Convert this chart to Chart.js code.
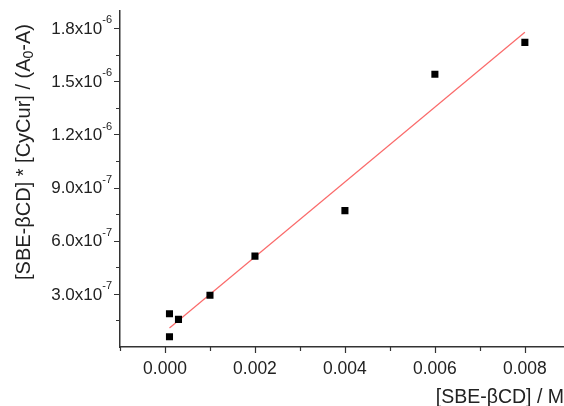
<!DOCTYPE html>
<html>
<head>
<meta charset="utf-8">
<script src="https://cdn.jsdelivr.net/npm/chart.js@4/dist/chart.umd.min.js"></script>
<style>
  html, body { margin: 0; padding: 0; background: #fff; }
  #wrap { width: 564px; height: 406px; }
</style>
</head>
<body>
<div id="wrap"><canvas id="chart" width="564" height="406"></canvas></div>
<script>
// Data
const xVals = [0.0001, 0.0001, 0.0003, 0.001, 0.002, 0.004, 0.006, 0.008];
const yVals = [1.88e-7, 5.8e-8, 1.56e-7, 2.92e-7, 5.13e-7, 7.7e-7, 1.54e-6, 1.72e-6];

// Linear fit (red line) end points
const fitX = [0.0001, 0.008];
const fitY = [1.075e-7, 1.777e-6];

// Axis ticks
const xTickVals = [0, 0.002, 0.004, 0.006, 0.008];
const xTickLabels = ["0.000", "0.002", "0.004", "0.006", "0.008"];
const xMinorVals = [-0.001, 0.001, 0.003, 0.005, 0.007];
const yTickVals = [3e-7, 6e-7, 9e-7, 1.2e-6, 1.5e-6, 1.8e-6];
const yTickLabels = ["3.0x10", "6.0x10", "9.0x10", "1.2x10", "1.5x10", "1.8x10"];
const yTickExps = ["-7", "-7", "-7", "-6", "-6", "-6"];
const yMinorVals = [1.5e-7, 4.5e-7, 7.5e-7, 1.05e-6, 1.35e-6, 1.65e-6];

const FONT = "'Liberation Sans', Arial, sans-serif";
const AXIS = "#333";
const TEXT = "#222";

// ------------------------------
// Custom axis decorations: tick marks, y labels with superscripts, y title
// ------------------------------
const axisDeco = {
  id: "axisDeco",
  afterDraw(chart) {
    const ctx = chart.ctx;
    const xs = chart.scales.x;
    const ys = chart.scales.y;
    const left = chart.chartArea.left;
    const bottom = chart.chartArea.bottom;

    ctx.save();
    ctx.strokeStyle = AXIS;
    ctx.lineWidth = 1.2;
    ctx.beginPath();
    xTickVals.forEach(v => {
      const px = Math.round(xs.getPixelForValue(v)) + 0.5;
      ctx.moveTo(px, bottom); ctx.lineTo(px, bottom + 6);
    });
    xMinorVals.forEach(v => {
      const px = Math.round(xs.getPixelForValue(v)) + 0.5;
      ctx.moveTo(px, bottom); ctx.lineTo(px, bottom + 4);
    });
    yTickVals.forEach(v => {
      const py = Math.round(ys.getPixelForValue(v)) + 0.5;
      ctx.moveTo(left, py); ctx.lineTo(left - 6, py);
    });
    yMinorVals.forEach(v => {
      const py = Math.round(ys.getPixelForValue(v)) + 0.5;
      ctx.moveTo(left, py); ctx.lineTo(left - 4, py);
    });
    ctx.stroke();

    // y tick labels with superscript exponent
    ctx.fillStyle = TEXT;
    ctx.textBaseline = "middle";
    yTickVals.forEach((v, i) => {
      const py = ys.getPixelForValue(v);
      ctx.font = "11px " + FONT;
      ctx.textAlign = "left";
      const ew = ctx.measureText(yTickExps[i]).width;
      const ex = left - 8 - ew;
      ctx.fillText(yTickExps[i], ex, py - 8);
      ctx.font = "17px " + FONT;
      ctx.textAlign = "right";
      ctx.fillText(yTickLabels[i], ex, py + 1);
    });

    // y axis title with subscript 0
    ctx.translate(24, 152);
    ctx.rotate(-Math.PI / 2);
    const partA = "[SBE-\u03B2CD] * [CyCur] / (A";
    const sub = "0";
    const partB = "-A)";
    ctx.font = "20px " + FONT;
    const wa = ctx.measureText(partA).width;
    const wb = ctx.measureText(partB).width;
    ctx.font = "14px " + FONT;
    const ws = ctx.measureText(sub).width;
    let x0 = -(wa + ws + wb) / 2;
    ctx.textAlign = "left";
    ctx.font = "20px " + FONT;
    ctx.fillText(partA, x0, 0);
    ctx.font = "14px " + FONT;
    ctx.fillText(sub, x0 + wa, 5);
    ctx.font = "20px " + FONT;
    ctx.fillText(partB, x0 + wa + ws, 0);
    ctx.restore();
  }
};

// ------------------------------
// Chart
// ------------------------------
function renderChart() {
  const ctx = document.getElementById("chart").getContext("2d");
  new Chart(ctx, {
    type: "scatter",
    data: {
      datasets: [
        {
          label: "Data",
          data: xVals.map((x, i) => ({ x, y: yVals[i] })),
          pointStyle: "rect",
          pointRadius: 5,
          pointBorderWidth: 0,
          backgroundColor: "#000",
          borderColor: "#000"
        },
        {
          label: "Fit",
          type: "line",
          data: fitX.map((x, i) => ({ x, y: fitY[i] })),
          borderColor: "rgba(250,90,90,0.9)",
          borderWidth: 1.2,
          pointRadius: 0,
          fill: false
        }
      ]
    },
    options: {
      responsive: false,
      animation: false,
      layout: { autoPadding: false, padding: { top: 10.5, right: 0, left: 0, bottom: 0 } },
      plugins: {
        legend: { display: false },
        tooltip: { enabled: false }
      },
      scales: {
        x: {
          type: "linear",
          min: -0.001,
          max: 0.00887,
          grid: { display: false, drawTicks: false },
          border: { display: true, color: AXIS, width: 1.5 },
          afterBuildTicks: s => { s.ticks = xTickVals.map(v => ({ value: v })); },
          afterFit: s => { s.height = 59; },
          ticks: {
            autoSkip: false,
            maxRotation: 0,
            padding: 12,
            color: TEXT,
            font: { family: FONT, size: 17.5 },
            callback: (v, i) => xTickLabels[i]
          },
          title: {
            display: true,
            text: "[SBE-\u03B2CD] / M",
            align: "end",
            color: TEXT,
            font: { family: FONT, size: 19.5 },
            padding: { top: 0, bottom: -3 }
          }
        },
        y: {
          type: "linear",
          min: 0,
          max: 1.9e-6,
          grid: { display: false, drawTicks: false },
          border: { display: true, color: AXIS, width: 1.5 },
          afterBuildTicks: s => { s.ticks = yTickVals.map(v => ({ value: v })); },
          afterFit: s => { s.width = 120; },
          ticks: { callback: () => "" }
        }
      }
    },
    plugins: [axisDeco]
  });
}

document.addEventListener("DOMContentLoaded", renderChart);
</script>
</body>
</html>
